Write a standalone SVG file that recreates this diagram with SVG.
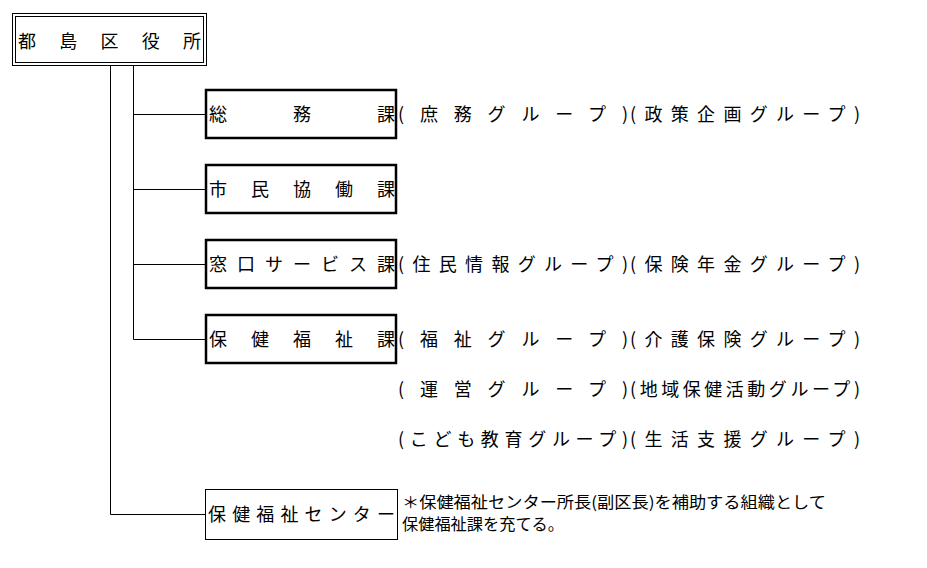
<svg xmlns="http://www.w3.org/2000/svg" width="927" height="568" viewBox="0 0 927 568">
<style>
text{font-family:"Noto Sans CJK JP",sans-serif;font-size:18px;fill:#000}
.b{fill:#fff;stroke:#000;stroke-width:2.5}
.t{fill:#fff;stroke:#000;stroke-width:1}
.l{stroke:#000;stroke-width:1;fill:none}
.n{font-size:16px}
</style>
<rect width="927" height="568" fill="#fff"/>
<g id="connectors">
<path class="l" d="M110.5 66V514.5H205M133.5 66V339.5H205M133 114.5H205M133 189.5H205M133 264.5H205"/>
</g>
<g id="top"><rect class="t" x="12.5" y="13.5" width="194" height="52"/><rect class="t" x="15.5" y="16.5" width="188" height="46"/>
<text x="18" y="48" textLength="183" lengthAdjust="spacing">都島区役所</text></g>
<g id="soumu"><rect class="b" x="206" y="90" width="190" height="48"/><text x="209" y="121" textLength="186" lengthAdjust="spacing">総務課</text></g>
<g id="shimin"><rect class="b" x="206" y="165" width="190" height="48"/><text x="209" y="196" textLength="186" lengthAdjust="spacing">市民協働課</text></g>
<g id="madoguchi"><rect class="b" x="206" y="240" width="190" height="48"/><text x="209" y="271" textLength="186" lengthAdjust="spacing">窓口サービス課</text></g>
<g id="hoken"><rect class="b" x="206" y="315" width="190" height="48"/><text x="209" y="346" textLength="186" lengthAdjust="spacing">保健福祉課</text></g>
<g id="center"><rect class="t" x="205.5" y="489.5" width="192" height="50"/><text x="208" y="521" textLength="187" lengthAdjust="spacing">保健福祉センター</text></g>
<g id="groups">
<text x="398" y="121" textLength="230" lengthAdjust="spacing">(庶務グループ)</text>
<text x="630" y="121" textLength="230" lengthAdjust="spacing">(政策企画グループ)</text>
<text x="398" y="271" textLength="230" lengthAdjust="spacing">(住民情報グループ)</text>
<text x="630" y="271" textLength="230" lengthAdjust="spacing">(保険年金グループ)</text>
<text x="398" y="346" textLength="230" lengthAdjust="spacing">(福祉グループ)</text>
<text x="630" y="346" textLength="230" lengthAdjust="spacing">(介護保険グループ)</text>
<text x="398" y="396" textLength="230" lengthAdjust="spacing">(運営グループ)</text>
<text x="630" y="396" textLength="230" lengthAdjust="spacing">(地域保健活動グループ)</text>
<text x="398" y="446" textLength="230" lengthAdjust="spacing">(こども教育グループ)</text>
<text x="630" y="446" textLength="230" lengthAdjust="spacing">(生活支援グループ)</text>
</g>
<g id="note">
<text class="n" x="402" y="508" textLength="424" lengthAdjust="spacingAndGlyphs">＊保健福祉センター所長(副区長)を補助する組織として</text>
<text class="n" x="402" y="530" textLength="162" lengthAdjust="spacingAndGlyphs">保健福祉課を充てる。</text>
</g>
</svg>
